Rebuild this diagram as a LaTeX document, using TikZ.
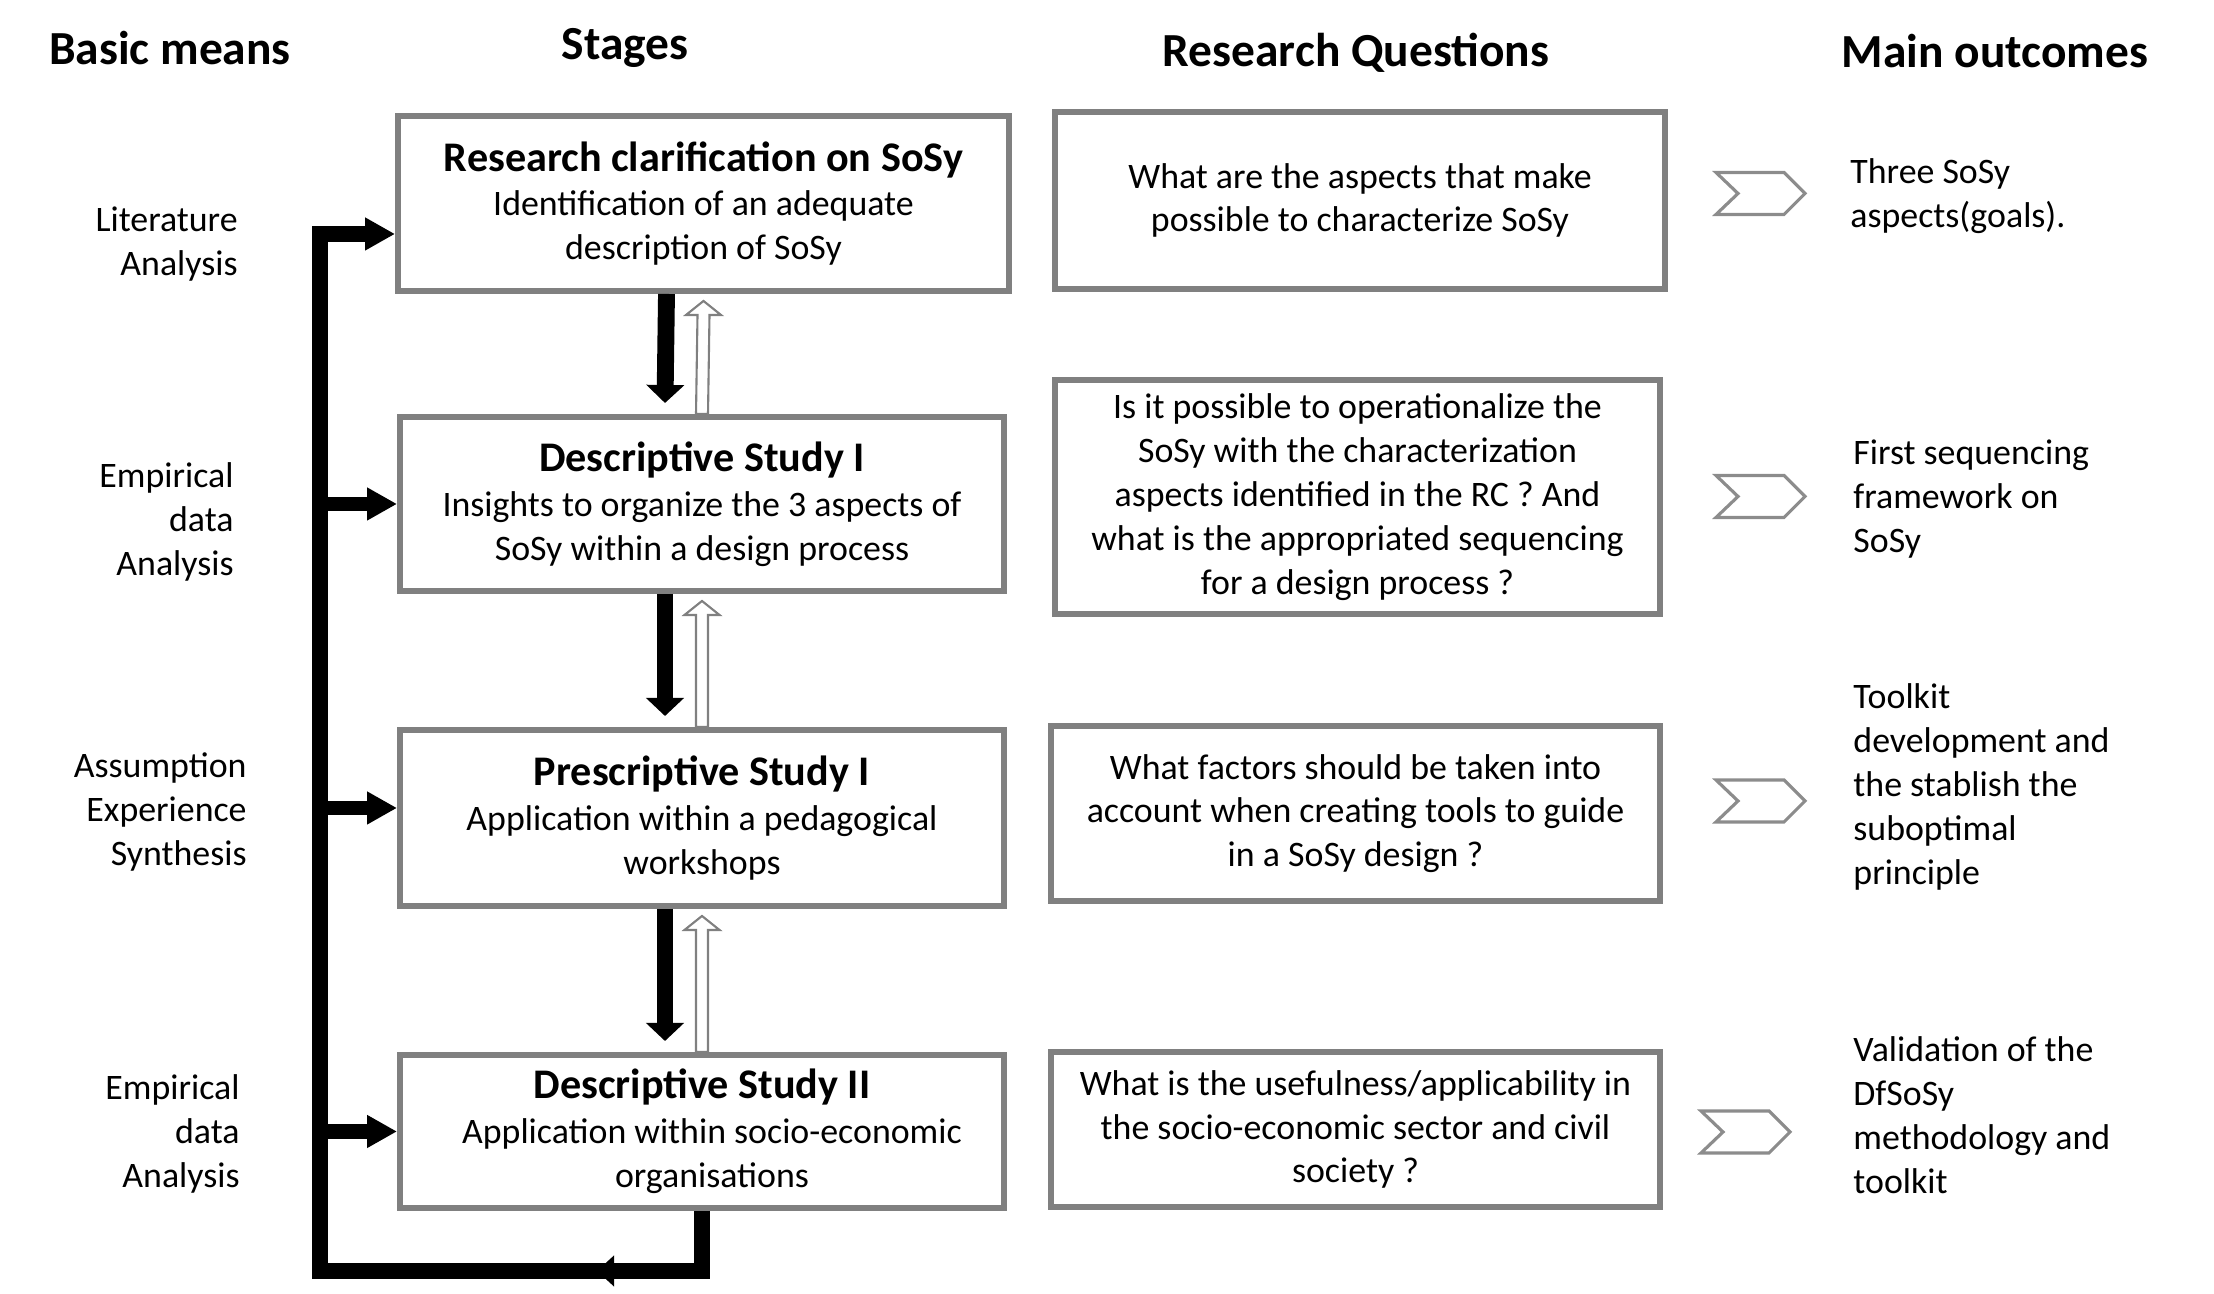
\documentclass[tikz,border=0pt]{standalone}
\usepackage{fontspec}
\setmainfont{Carlito}
\usepackage{tikz}
\usetikzlibrary{arrows.meta, calc, positioning, decorations.markings}

\definecolor{boxgray}{RGB}{128,128,128}
\definecolor{chevgray}{RGB}{140,140,140}
\newcommand{\headfont}{\fontsize{13.5}{16}\selectfont\bfseries}
\newcommand{\titlefont}{\fontsize{12}{14}\selectfont\bfseries}
\newcommand{\bodyfont}{\fontsize{10.2}{12.47}\selectfont}

\tikzset{
  stagebox/.style={draw=boxgray, line width=1.7pt, fill=white, align=center, font=\bodyfont, inner sep=2pt},
  askbox/.style={stagebox},
  meanlabel/.style={anchor=east, align=right, font=\bodyfont},
  outlabel/.style={anchor=west, align=left, font=\bodyfont},
  headlabel/.style={anchor=base, font=\headfont},
  feedline/.style={line width=4.3pt, line join=miter, -{Triangle[length=0.30cm,width=0.31cm]}},
  sidearr/.style={line width=4pt, -{Triangle[length=0.30cm,width=0.31cm]}},
  downarr/.style={line width=4.8pt, -{Triangle[length=0.18cm,width=0.37cm]}},
  hollowarr/.style={draw=boxgray, line width=0.6pt, fill=white},
  chevron/.style={draw=chevgray, line width=0.9pt, line join=miter},
}

\begin{document}
\begin{tikzpicture}
\useasboundingbox (0,0) rectangle (22.14,12.94);

% column heads
\node[headlabel] (hmeans) at (1.70,12.29) {Basic means};
\node[headlabel] (hstages) at (6.25,12.34) {Stages};
\node[headlabel] (hquest) at (13.56,12.27) {Research Questions};
\node[headlabel] (hout) at (19.95,12.26) {Main outcomes};

% stages
\node[stagebox, minimum width=6.11cm, minimum height=1.75cm] (s1) at (7.035,10.905)
  {{\titlefont Research clarification on SoSy}\\[0.3pt] Identification of an adequate\\ description of SoSy};
\node[stagebox, minimum width=6.04cm, minimum height=1.74cm] (s2) at (7.02,7.90)
  {{\titlefont Descriptive Study I}\\[0.3pt] Insights to organize the 3 aspects of\\ SoSy within a design process};
\node[stagebox, minimum width=6.04cm, minimum height=1.76cm] (s3) at (7.02,4.76)
  {{\titlefont Prescriptive Study I}\\[0.3pt] Application within a pedagogical\\ workshops};
\node[stagebox, minimum width=6.04cm, minimum height=1.53cm] (s4) at (7.02,1.625)
  {{\titlefont Descriptive Study II}\\[0.3pt] \hspace{0.2cm}Application within socio-economic\\ \hspace{0.2cm}organisations};

% research questions
\node[askbox, minimum width=6.10cm, minimum height=1.77cm] (q1) at (13.60,10.935)
  {What are the aspects that make\\ possible to characterize SoSy};
\node[askbox, minimum width=6.05cm, minimum height=2.34cm] (q2) at (13.575,7.97)
  {Is it possible to operationalize the\\ SoSy with the characterization\\ aspects identified in the RC ? And\\ what is the appropriated sequencing\\ for a design process ?};
\node[askbox, minimum width=6.09cm, minimum height=1.75cm] (q3) at (13.555,4.805)
  {What factors should be taken into\\ account when creating tools to guide\\ in a SoSy design ?};
\node[askbox, minimum width=6.09cm, minimum height=1.55cm] (q4) at (13.555,1.645)
  {What is the usefulness/applicability in\\ the socio-economic sector and civil\\ society ?};

% basic means
\node[meanlabel] (m1) at (2.50,10.50) {Literature\\ Analysis};
\node[meanlabel] (m2) at (2.46,7.72) {Empirical\\ data\\ Analysis};
\node[meanlabel] (m3) at (2.59,4.82) {Assumption\\ Experience\\ Synthesis};
\node[meanlabel] (m4) at (2.52,1.60) {Empirical\\ data\\ Analysis};

% outcomes
\node[outlabel] (o1) at (18.38,10.98) {Three SoSy\\ aspects(goals).};
\node[outlabel] (o2) at (18.41,7.95) {First sequencing\\ framework on\\ SoSy};
\node[outlabel] (o3) at (18.41,5.07) {Toolkit\\ development and\\ the stablish the\\ suboptimal\\ principle};
\node[outlabel] (o4) at (18.41,1.79) {Validation of the\\ DfSoSy\\ methodology and\\ toolkit};

% feedback loop
\coordinate (bend) at ($(s4.south)+(0,-0.60)$);
\coordinate (top) at (3.20,10.60);
\draw[feedline, postaction={decorate},
  decoration={markings, mark=at position 1.65cm with {\arrow{Triangle[length=0.17cm,width=0.30cm]}}}]
  (s4.south) -- (bend) -| (top) -- (s1.west |- top);
\foreach \s/\dy in {s2/0, s3/0.1, s4/0}
  \draw[sidearr] ($(top |- \s.west)+(0,\dy)$) -- ($(\s.west)+(0,\dy)$);

% forward and back between stages
\foreach \a/\b in {s1/s2, s2/s3, s3/s4} {
  \draw[downarr] ($(\a.south)+(-0.37,0)$) -- ($(\b.north)+(-0.37,0.11)$);
  \draw[hollowarr] ($(\b.north)+(-0.06,0)$) -- ($(\a.south)+(-0.06,-0.21)$) -- ++(-0.115,0)
    -- ($(\a.south)+(0,-0.07)$) -- ($(\a.south)+(0.175,-0.21)$) -- ++(-0.115,0)
    -- ($(\b.north)+(0.06,0)$) -- cycle;
}

% chevrons
\foreach \x/\y in {17.16/11.005, 17.16/7.975, 17.16/4.93, 17.01/1.62}
  \draw[chevron] (\x,\y+0.21) -- ++(0.68,0) -- ++(0.21,-0.21) -- ++(-0.21,-0.21)
    -- ++(-0.68,0) -- ++(0.22,0.21) -- cycle;
\end{tikzpicture}
\end{document}
